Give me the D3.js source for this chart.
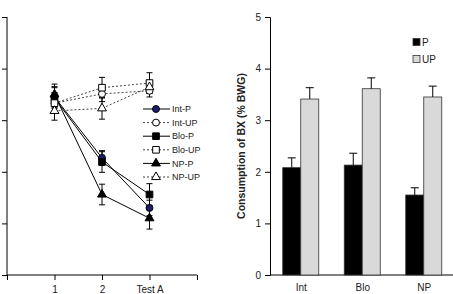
<!DOCTYPE html>
<html>
<head>
<meta charset="utf-8">
<script src="https://cdn.jsdelivr.net/npm/d3@7"></script>
<style>
  body { margin: 0; background: #fff; }
  svg text { font-family: "Liberation Sans", Arial, sans-serif; fill: #222; }
</style>
</head>
<body>
<svg id="chart" width="453" height="294"></svg>
<script>
// left panel: consumption across sessions
const sessions = ['1', '2', 'Test A'];
const seriesNames = ['Int-P', 'Int-UP', 'Blo-P', 'Blo-UP', 'NP-P', 'NP-UP'];
const intP = [3.45, 2.27, 1.30];
const intPErr = [0.2, 0.14, 0.15];
const intUP = [3.33, 3.51, 3.57];
const intUPErr = [0.2, 0.15, 0.12];
const bloP = [3.43, 2.19, 1.56];
const bloPErr = [0.2, 0.2, 0.21];
const bloUP = [3.33, 3.63, 3.72];
const bloUPErr = [0.2, 0.2, 0.2];
const npP = [3.5, 1.56, 1.10];
const npPErr = [0.2, 0.2, 0.21];
const npUP = [3.18, 3.23, 3.64];
const npUPErr = [0.18, 0.21, 0.12];
const lineTicks = [0, 1, 2, 3, 4, 5];

// right panel: test consumption
const groups = ['Int', 'Blo', 'NP'];
const barP = [2.08, 2.13, 1.55];
const barPErr = [0.19, 0.23, 0.14];
const barUP = [3.41, 3.61, 3.45];
const barUPErr = [0.22, 0.21, 0.21];
const barTicks = [0, 1, 2, 3, 4, 5];

const svg = d3.select('#chart');

// ---------- left panel ----------
const xL = d3.scaleLinear().domain([0, 4]).range([7, 197]);
const yL = d3.scaleLinear().domain([0, 5]).range([275, 17]);

const gL = svg.append('g');
gL.append('g')
  .attr('transform', 'translate(7,0)')
  .call(d3.axisLeft(yL).tickValues(lineTicks).tickSize(5).tickFormat(''))
  .call(g => g.select('.domain').attr('d', 'M0,17V275'));
gL.append('g')
  .attr('transform', 'translate(0,275)')
  .call(d3.axisBottom(xL).tickValues([0, 1, 2, 3, 4]).tickSize(5)
    .tickFormat(i => sessions[i - 1] || ''))
  .call(g => g.select('.domain').attr('d', 'M7,0H197'))
  .call(g => g.selectAll('text').attr('font-size', 10).attr('dy', '0.95em'));
gL.selectAll('.tick line, .domain').attr('stroke', '#000');

const series = [
  { name: 'Int-P', vals: intP, err: intPErr, shape: 'circle', fill: '#1c1c6e', dash: null },
  { name: 'Int-UP', vals: intUP, err: intUPErr, shape: 'circle', fill: '#fff', dash: '2,2' },
  { name: 'Blo-P', vals: bloP, err: bloPErr, shape: 'square', fill: '#000', dash: null },
  { name: 'Blo-UP', vals: bloUP, err: bloUPErr, shape: 'square', fill: '#fff', dash: '2,2' },
  { name: 'NP-P', vals: npP, err: npPErr, shape: 'triangle', fill: '#000', dash: null },
  { name: 'NP-UP', vals: npUP, err: npUPErr, shape: 'triangle', fill: '#fff', dash: '2,2' }
];
const symbolOf = { circle: d3.symbolCircle, square: d3.symbolSquare, triangle: d3.symbolTriangle };
const sizeOf = { circle: 38, square: 44, triangle: 34 };

const line = d3.line().x((d, i) => xL(i + 1)).y(d => yL(d));
series.forEach(s => {
  gL.append('path')
    .attr('d', line(s.vals))
    .attr('fill', 'none')
    .attr('stroke', s.dash ? '#444' : '#000')
    .attr('stroke-width', 1)
    .attr('stroke-dasharray', s.dash);
});
series.forEach(s => {
  s.vals.forEach((v, i) => {
    const x = xL(i + 1), y0 = yL(v - s.err[i]), y1 = yL(v + s.err[i]);
    gL.append('path')
      .attr('d', `M${x},${y0}V${y1}M${x - 3},${y0}H${x + 3}M${x - 3},${y1}H${x + 3}`)
      .attr('stroke', '#000').attr('fill', 'none');
  });
});
series.forEach(s => {
  gL.selectAll(null).data(s.vals).enter().append('path')
    .attr('transform', (d, i) => `translate(${xL(i + 1)},${yL(d)})`)
    .attr('d', d3.symbol(symbolOf[s.shape], sizeOf[s.shape]))
    .attr('fill', s.fill)
    .attr('stroke', '#000');
});

// legend
const leg = gL.append('g');
series.forEach((s, i) => {
  const y = 109 + i * 13.6;
  leg.append('line').attr('x1', 143).attr('x2', 170).attr('y1', y).attr('y2', y)
    .attr('stroke', s.dash ? '#444' : '#000').attr('stroke-dasharray', s.dash);
  leg.append('path').attr('transform', `translate(156,${y})`)
    .attr('d', d3.symbol(symbolOf[s.shape], sizeOf[s.shape]))
    .attr('fill', s.fill).attr('stroke', '#000');
  leg.append('text').attr('x', 172).attr('y', y).attr('dy', '0.35em')
    .attr('font-size', 9).text(s.name);
});

// ---------- right panel ----------
const xR = d3.scalePoint().domain(groups).range([270, 454.5]).padding(0.5);
const yR = d3.scaleLinear().domain([0, 5]).range([275, 17]);
const bw = 18;

const gR = svg.append('g');
gR.append('g')
  .attr('transform', 'translate(270,0)')
  .call(d3.axisLeft(yR).tickValues(barTicks).tickSize(5).tickPadding(4).tickFormat(d3.format('d')))
  .call(g => g.selectAll('text').attr('font-size', 10));
gR.append('g')
  .attr('transform', 'translate(0,275)')
  .call(d3.axisBottom(xR).tickSize(0).tickPadding(9))
  .call(g => g.select('.domain').attr('d', 'M270,0H453'))
  .call(g => g.selectAll('text').attr('font-size', 10));
gR.selectAll('.tick line, .domain').attr('stroke', '#000');

const bars = [
  { vals: barP, err: barPErr, fill: '#000', off: -bw },
  { vals: barUP, err: barUPErr, fill: '#d9d9d9', off: 0 }
];
bars.forEach(b => {
  gR.selectAll(null).data(groups).enter().append('rect')
    .attr('x', g => xR(g) + b.off)
    .attr('y', (g, i) => yR(b.vals[i]))
    .attr('width', bw)
    .attr('height', (g, i) => yR(0) - yR(b.vals[i]))
    .attr('fill', b.fill)
    .attr('stroke', '#333')
    .attr('stroke-width', 0.8);
  gR.selectAll(null).data(groups).enter().append('path')
    .attr('d', (g, i) => {
      const cx = xR(g) + b.off + bw / 2;
      const yt = yR(b.vals[i] + b.err[i]), yb = yR(b.vals[i]);
      return `M${cx},${yb}V${yt}M${cx - 4},${yt}H${cx + 4}`;
    })
    .attr('stroke', '#000').attr('fill', 'none');
});

gR.append('text')
  .attr('transform', 'translate(245,146) rotate(-90)')
  .attr('text-anchor', 'middle')
  .attr('font-size', 10.5)
  .attr('font-weight', 'bold')
  .text('Consumption of BX (% BWG)');

const legR = gR.append('g');
[['P', '#000'], ['UP', '#d9d9d9']].forEach((d, i) => {
  const y = 42 + i * 17;
  legR.append('rect').attr('x', 413).attr('y', y - 3.5).attr('width', 7).attr('height', 7)
    .attr('fill', d[1]).attr('stroke', '#333').attr('stroke-width', 0.8);
  legR.append('text').attr('x', 422).attr('y', y).attr('dy', '0.35em')
    .attr('font-size', 10).text(d[0]);
});
</script>
</body>
</html>
